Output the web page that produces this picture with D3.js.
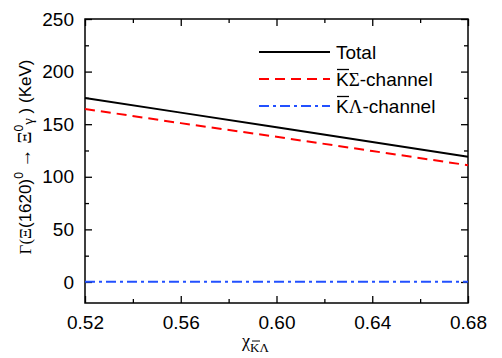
<!DOCTYPE html>
<html>
<head>
<meta charset="utf-8">
<script src="https://cdn.jsdelivr.net/npm/d3@7"></script>
<style>
  body { margin: 0; background: #fff; }
  svg text { font-family: "Liberation Sans", Arial, sans-serif; }
  .serif { font-family: "Liberation Serif", "Times New Roman", serif; }
</style>
</head>
<body>
<div id="chart"></div>
<script>
// values
const chiValues = [0.52, 0.56, 0.60, 0.64, 0.68];
const totalWidth = [175, 161, 147, 133, 119];
const kSigmaWidth = [164.5, 151, 138, 124.5, 111];
const kLambdaWidth = [0.3, 0.3, 0.3, 0.3, 0.3];

const xTicks = [0.52, 0.56, 0.60, 0.64, 0.68];
const xMinorTicks = [0.54, 0.58, 0.62, 0.66];
const yTicks = [0, 50, 100, 150, 200, 250];
const yMinorTicks = [25, 75, 125, 175, 225];

const seriesNames = ["Total", "KΣ", "KΛ"];

// chart size
const W = 502, H = 358;
const margin = {top: 19, right: 34, bottom: 55, left: 85},
    width = W - margin.left - margin.right,
    height = H - margin.top - margin.bottom;

const svg = d3.select("#chart")
    .append("svg")
    .attr("width", W)
    .attr("height", H);

const g = svg.append("g")
    .attr("transform", `translate(${margin.left}, ${margin.top})`);

const xScale = d3.scaleLinear().domain([0.52, 0.68]).range([0, width]);
const yScale = d3.scaleLinear().domain([-20, 250]).range([height, 0]);

// helper to draw an axis with inward ticks and some style
function styleAxis(sel, showText) {
    sel.select(".domain").remove();
    sel.selectAll(".tick line").attr("stroke", "#000").attr("stroke-width", 1.3);
    sel.selectAll(".tick text")
        .style("font-size", "19px")
        .attr("fill", "#000");
    if (!showText) sel.selectAll(".tick text").remove();
}

// bottom axis: major + minor
g.append("g")
    .attr("transform", `translate(0, ${height})`)
    .call(d3.axisBottom(xScale).tickValues(xTicks).tickFormat(d3.format(".2f"))
        .tickSizeInner(-7).tickSizeOuter(0).tickPadding(13))
    .call(s => styleAxis(s, true));
g.append("g")
    .attr("transform", `translate(0, ${height})`)
    .call(d3.axisBottom(xScale).tickValues(xMinorTicks).tickSizeInner(-4).tickSizeOuter(0))
    .call(s => styleAxis(s, false));

// top axis
g.append("g")
    .call(d3.axisTop(xScale).tickValues(xTicks).tickSizeInner(-7).tickSizeOuter(0))
    .call(s => styleAxis(s, false));
g.append("g")
    .call(d3.axisTop(xScale).tickValues(xMinorTicks).tickSizeInner(-4).tickSizeOuter(0))
    .call(s => styleAxis(s, false));

// left axis
g.append("g")
    .call(d3.axisLeft(yScale).tickValues(yTicks).tickSizeInner(-7).tickSizeOuter(0).tickPadding(11))
    .call(s => styleAxis(s, true));
g.append("g")
    .call(d3.axisLeft(yScale).tickValues(yMinorTicks).tickSizeInner(-4).tickSizeOuter(0))
    .call(s => styleAxis(s, false));

// right axis
g.append("g")
    .attr("transform", `translate(${width}, 0)`)
    .call(d3.axisRight(yScale).tickValues(yTicks).tickSizeInner(-7).tickSizeOuter(0))
    .call(s => styleAxis(s, false));
g.append("g")
    .attr("transform", `translate(${width}, 0)`)
    .call(d3.axisRight(yScale).tickValues(yMinorTicks).tickSizeInner(-4).tickSizeOuter(0))
    .call(s => styleAxis(s, false));

// frame
g.append("rect")
    .attr("width", width)
    .attr("height", height)
    .attr("fill", "none")
    .attr("stroke", "#000")
    .attr("stroke-width", 1.5);

// the three curves
const series = [
    {values: totalWidth, color: "#000", dash: null},
    {values: kSigmaWidth, color: "#ff0000", dash: "10,6"},
    {values: kLambdaWidth, color: "#2250ff", dash: "10,4,3,4"}
];

const line = d3.line()
    .x((d, i) => xScale(chiValues[i]))
    .y(d => yScale(d));

series.forEach(s => {
    g.append("path")
        .datum(s.values)
        .attr("d", line)
        .attr("fill", "none")
        .attr("stroke", s.color)
        .attr("stroke-width", 2)
        .attr("stroke-dasharray", s.dash);
});

// legend
const legend = g.append("g").attr("transform", "translate(174, 33)");
series.forEach((s, i) => {
    const row = legend.append("g").attr("transform", `translate(0, ${i * 27})`);
    row.append("line")
        .attr("x1", 0).attr("x2", 71)
        .attr("stroke", s.color)
        .attr("stroke-width", 2)
        .attr("stroke-dasharray", s.dash);
    const t = row.append("text")
        .attr("x", 77)
        .attr("y", 7)
        .style("font-size", "19px");
    if (i === 0) {
        t.text(seriesNames[0]);
    } else {
        t.append("tspan").text("K");
        t.append("tspan").attr("class", "serif").text(seriesNames[i].slice(1));
        t.append("tspan").text("-channel");
        // bar over the K
        row.append("line")
            .attr("x1", 78).attr("x2", 90)
            .attr("y1", -9.5).attr("y2", -9.5)
            .attr("stroke", "#000").attr("stroke-width", 1.3);
    }
});

// y axis label
const yLabel = svg.append("text")
    .attr("transform", `translate(31, 157) rotate(-90)`)
    .attr("text-anchor", "middle")
    .style("font-size", "17px");
yLabel.append("tspan").attr("class", "serif").text("Γ(Ξ");
yLabel.append("tspan").text("(1620)");
yLabel.append("tspan").attr("dy", -8).style("font-size", "12px").text("0");
yLabel.append("tspan").attr("dy", 8).attr("class", "serif").style("font-size", "19px").text(" → Ξ");
yLabel.append("tspan").attr("dy", -8).style("font-size", "12px").text("0");
yLabel.append("tspan").attr("dy", 10).attr("class", "serif").style("font-size", "15px").text("γ");
yLabel.append("tspan").attr("dy", -2).text(" ) (KeV)");

// x axis label
const xLabel = svg.append("text")
    .attr("x", 242)
    .attr("y", 347)
    .attr("text-anchor", "start")
    .attr("class", "serif")
    .style("font-size", "18px");
xLabel.append("tspan").text("χ");
xLabel.append("tspan").attr("dy", 5).style("font-size", "13px").text("KΛ");
svg.append("line")
    .attr("x1", 252).attr("x2", 260)
    .attr("y1", 341).attr("y2", 341)
    .attr("stroke", "#000").attr("stroke-width", 1);
</script>
</body>
</html>
